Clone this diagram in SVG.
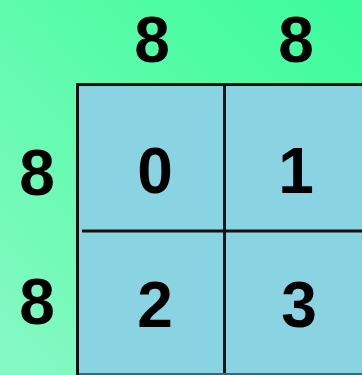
<svg xmlns="http://www.w3.org/2000/svg" width="362" height="375" viewBox="0 0 362 375">
  <defs>
    <linearGradient id="bg" x1="0" y1="1" x2="1" y2="0">
      <stop offset="0" stop-color="#88f8c6"/>
      <stop offset="0.5" stop-color="#5efbac"/>
      <stop offset="1" stop-color="#3cfb9c"/>
    </linearGradient>
  </defs>
  <style>
    .t { font-family: "Liberation Sans", Arial, sans-serif; font-weight: bold; font-size: 64px; fill: #000; text-anchor: middle; }
    .cell { fill: #8ad3e3; stroke: none; }
    .ln { stroke: #111; stroke-width: 3; fill: none; }
  </style>
  <rect x="0" y="0" width="362" height="375" fill="url(#bg)"/>
  <g id="cell0"><rect class="cell" x="78" y="84" width="147" height="147"/><text class="t" x="155" y="193">0</text></g>
  <g id="cell1"><rect class="cell" x="225" y="84" width="147" height="147"/><text class="t" x="296" y="193">1</text></g>
  <g id="cell2"><rect class="cell" x="78" y="231" width="147" height="147"/><text class="t" x="155" y="327">2</text></g>
  <g id="cell3"><rect class="cell" x="225" y="231" width="147" height="147"/><text class="t" x="299" y="327">3</text></g>
  <g id="lines">
    <path class="ln" d="M77.5 375 V84.5 H362"/>
    <path class="ln" d="M224.5 84 V375"/>
    <path class="ln" d="M82 231 H362"/>
    <path d="M79 374 H362" stroke="#3a6a72" stroke-width="2"/>
  </g>
  <g id="labels">
    <text class="t" x="152" y="62">8</text>
    <text class="t" x="296" y="62">8</text>
    <text class="t" x="37" y="195">8</text>
    <text class="t" x="37" y="324">8</text>
  </g>
</svg>
